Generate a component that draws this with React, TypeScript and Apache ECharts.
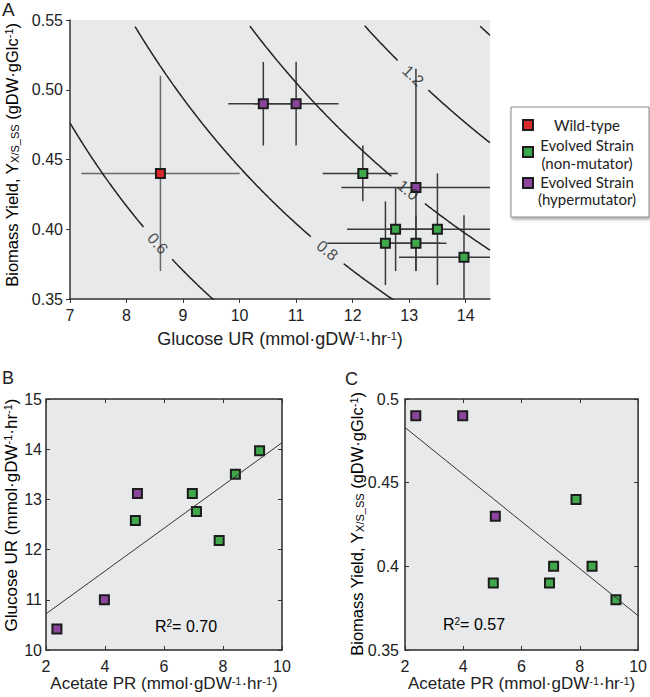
import React, { useEffect, useRef } from "react";
import * as echarts from "echarts";

// ---------------- data ----------------
const legendLines = [["Wild-type"], ["Evolved Strain", "(non-mutator)"], ["Evolved Strain", "(hypermutator)"]];
const groupColors = ["#d9272d", "#3fa84a", "#8c459c"];

// Wild-type (panel A)
const wildGlucoseUR = [8.6];
const wildYield = [0.44];
const wildURLow = [7.2];
const wildURHigh = [10.0];
const wildYieldLow = [0.37];
const wildYieldHigh = [0.51];

// Evolved, non-mutator
const nonMutGlucoseUR = [12.18, 12.76, 13.5, 12.58, 13.12, 13.97];
const nonMutYield = [0.44, 0.4, 0.4, 0.39, 0.39, 0.38];
const nonMutURLow = [11.47, 11.9, 12.6, 11.55, 12.55, 12.82];
const nonMutURHigh = [12.8, 13.6, 14.6, 13.55, 13.66, 15.1];
const nonMutYieldLow = [0.42, 0.37, 0.36, 0.36, 0.37, 0.35];
const nonMutYieldHigh = [0.46, 0.43, 0.44, 0.42, 0.41, 0.41];
const nonMutAcetatePR = [7.87, 7.1, 8.42, 5.03, 6.96, 9.24];

// Evolved, hypermutator
const hyperGlucoseUR = [10.42, 11.0, 13.12];
const hyperYield = [0.49, 0.49, 0.43];
const hyperURLow = [9.8, 10.25, 11.8];
const hyperURHigh = [11.05, 11.75, 14.6];
const hyperYieldLow = [0.46, 0.46, 0.37];
const hyperYieldHigh = [0.52, 0.52, 0.515];
const hyperAcetatePR = [2.37, 3.98, 5.1];

// Growth-rate iso-lines (mu = UR * Y * glucose g/mmol)
const growthLevels = [0.6, 0.8, 1.0, 1.2, 1.4];
const growthLabelAtUR = [8.55, 11.55, 12.98, 13.07, null];
const glucoseGramPerMmol = 0.18;

// Linear fits
const fitAcetate = [2, 10];
const fitBGlucose = [10.72, 14.13];
const fitCYield = [0.483, 0.3705];
const r2B = "0.70";
const r2C = "0.57";

// Ticks
const aXTicks = [7, 8, 9, 10, 11, 12, 13, 14];

// ---------------- layout ----------------
const FONT = "Liberation Sans, Arial, sans-serif";
const LEGEND_FONT = "Lato, Liberation Sans, sans-serif";
const BG = "#e8e9ea";
const INK = "#222";

const A = { left: 70, top: 20, width: 420, height: 279, xmin: 7, xmax: 14.43, ymin: 0.35, ymax: 0.55 };
const B = { left: 46, top: 399, width: 236, height: 251 };
const C = { left: 405, top: 399, width: 236, height: 251 };

function richFor(size: number) {
  return {
    a: { fontSize: size, fontFamily: FONT, color: INK, verticalAlign: "middle", lineHeight: size },
    s: { fontSize: 11, fontFamily: FONT, color: INK, verticalAlign: "bottom", lineHeight: 11, padding: [10, 0, 0, 0] },
    p: { fontSize: 11, fontFamily: FONT, color: INK, verticalAlign: "top", lineHeight: 11 },
  };
}
const glucoseName = "{a|Glucose UR (mmol·gDW}{p|-1}{a|·hr}{p|-1}{a|)}";
const acetateName = "{a|Acetate PR (mmol·gDW}{p|-1}{a|·hr}{p|-1}{a|)}";
const yieldName = "{a|Biomass Yield, Y}{s|X/S_SS}{a| (gDW·gGlc}{p|-1}{a|)}";

function zip(xs: number[], ys: number[]) {
  return xs.map((x, i) => [x, ys[i]]);
}

function contourSeries() {
  const kx = A.width / (A.xmax - A.xmin);
  const ky = A.height / (A.ymax - A.ymin);
  const out: any[] = [];
  const labels: any[] = [];
  growthLevels.forEach((level, li) => {
    const lx = growthLabelAtUR[li];
    const ly = lx != null ? level / (glucoseGramPerMmol * lx) : 0;
    const segs: number[][][] = [[]];
    const N = 600;
    for (let i = 0; i <= N; i++) {
      const x = A.xmin + (i * (A.xmax - A.xmin)) / N;
      const y = level / (glucoseGramPerMmol * x);
      let skip = y > 0.546 || y < 0.34;
      if (!skip && lx != null) {
        const d = Math.hypot((x - lx) * kx, (y - ly) * ky);
        if (d < 21) skip = true;
      }
      if (skip) {
        if (segs[segs.length - 1].length) segs.push([]);
        continue;
      }
      segs[segs.length - 1].push([x, y]);
    }
    segs.filter((s) => s.length > 1).forEach((s) =>
      out.push({
        type: "line",
        xAxisIndex: 0,
        yAxisIndex: 0,
        data: s,
        symbol: "none",
        silent: true,
        lineStyle: { color: INK, width: 1.5 },
      })
    );
    if (lx != null) {
      const slopePx = ((ly / lx) * ky) / kx;
      const deg = (Math.atan(slopePx) * 180) / Math.PI;
      labels.push({ value: [lx, ly], label: { rotate: -deg, formatter: level.toFixed(1) } });
    }
  });
  out.push({
    type: "scatter",
    xAxisIndex: 0,
    yAxisIndex: 0,
    data: labels,
    symbolSize: 1,
    silent: true,
    itemStyle: { color: "rgba(0,0,0,0)" },
    label: { show: true, position: "inside", fontSize: 16, fontFamily: FONT, color: INK },
  });
  return out;
}

function errorSeries(xs: number[], ys: number[], xl: number[], xh: number[], yl: number[], yh: number[], color: string) {
  const clampX = (v: number) => Math.max(A.xmin, Math.min(A.xmax, v));
  const clampY = (v: number) => Math.max(A.ymin, Math.min(A.ymax, v));
  return {
    type: "custom",
    xAxisIndex: 0,
    yAxisIndex: 0,
    silent: true,
    data: xs.map((x, i) => [x, ys[i], xl[i], xh[i], yl[i], yh[i]]),
    encode: { x: 0, y: 1 },
    renderItem: (_p: any, api: any) => {
      const x = api.value(0), y = api.value(1);
      const a = api.coord([clampX(api.value(2)), y]);
      const b = api.coord([clampX(api.value(3)), y]);
      const c = api.coord([x, clampY(api.value(4))]);
      const d = api.coord([x, clampY(api.value(5))]);
      const st = { stroke: color, lineWidth: 1.5 };
      return {
        type: "group",
        children: [
          { type: "line", shape: { x1: a[0], y1: a[1], x2: b[0], y2: b[1] }, style: st },
          { type: "line", shape: { x1: c[0], y1: c[1], x2: d[0], y2: d[1] }, style: st },
        ],
      };
    },
  };
}

function markerSeries(data: number[][], color: string, xi: number, yi: number) {
  return {
    type: "scatter",
    xAxisIndex: xi,
    yAxisIndex: yi,
    data,
    symbol: "rect",
    symbolSize: 9,
    itemStyle: { color, borderColor: "#1c1c1c", borderWidth: 2, opacity: 1 },
  };
}

const axisText = { fontSize: 16, fontFamily: FONT, color: INK };

function boxAxes(g: number, xmin: number, xmax: number, xint: number, ymin: number, ymax: number, yint: number, yLabelMargin: number) {
  const tick = { show: true, inside: true, length: 4, lineStyle: { color: "#333", width: 1 } };
  const xAxes = [
    {
      gridIndex: g, type: "value", min: xmin, max: xmax, interval: xint,
      axisLine: { show: false }, axisTick: tick, splitLine: { show: false },
      axisLabel: { ...axisText, margin: 8 },
      name: acetateName, nameLocation: "middle", nameGap: 25, nameTextStyle: { rich: richFor(17) },
    },
    {
      gridIndex: g, type: "value", position: "top", min: xmin, max: xmax, interval: xint,
      axisLine: { show: false }, axisTick: tick, splitLine: { show: false }, axisLabel: { show: false },
    },
  ];
  const yAxes = [
    {
      gridIndex: g, type: "value", min: ymin, max: ymax, interval: yint,
      axisLine: { show: false }, axisTick: tick, splitLine: { show: false },
      axisLabel: { ...axisText, margin: yLabelMargin },
    },
    {
      gridIndex: g, type: "value", position: "right", min: ymin, max: ymax, interval: yint,
      axisLine: { show: false }, axisTick: tick, splitLine: { show: false }, axisLabel: { show: false },
    },
  ];
  return { xAxes, yAxes };
}

function yTitle(text: string, x: number, y: number, size: number) {
  return {
    type: "text",
    x,
    y,
    rotation: Math.PI / 2,
    style: { text, rich: richFor(size), textAlign: "center", textVerticalAlign: "middle" },
  };
}

function legendGraphic() {
  const children: any[] = [
    {
      type: "rect",
      shape: { x: 511, y: 107, width: 138, height: 110 },
      style: { fill: "#fff", stroke: "#8a8a8a", lineWidth: 1, shadowBlur: 3, shadowOffsetX: 1, shadowOffsetY: 2, shadowColor: "rgba(0,0,0,0.35)" },
    },
  ];
  const markerY = [125, 152, 183];
  const lineYs = [[125], [145, 163], [182, 199]];
  legendLines.forEach((lines, i) => {
    children.push({
      type: "rect",
      shape: { x: 523, y: markerY[i] - 5, width: 10, height: 10 },
      style: { fill: groupColors[i], stroke: "#1c1c1c", lineWidth: 2 },
    });
    lines.forEach((t, j) => {
      children.push({
        type: "text",
        x: 587,
        y: lineYs[i][j],
        style: { text: t, fill: INK, font: `15px ${LEGEND_FONT}`, textAlign: "center", textVerticalAlign: "middle" },
      });
    });
  });
  return { type: "group", children };
}

export default function App() {
  const ref = useRef<HTMLDivElement>(null);
  useEffect(() => {
    if (!ref.current) return;
    const chart = echarts.init(ref.current, null, { renderer: "svg" });

    const b = boxAxes(1, 2, 10, 2, 10, 15, 1, 4);
    const c = boxAxes(2, 2, 10, 2, 0.35, 0.5, 0.05, 6);

    const r2Rich = {
      a: { fontSize: 16, fontFamily: FONT, color: INK, verticalAlign: "middle", lineHeight: 16 },
      p: { fontSize: 10, fontFamily: FONT, color: INK, verticalAlign: "top", lineHeight: 10 },
    };

    const option: any = {
      animation: false,
      backgroundColor: "#fff",
      textStyle: { fontFamily: FONT },
      grid: [
        { left: A.left, top: A.top, width: A.width, height: A.height, show: true, backgroundColor: BG, borderWidth: 0 },
        { left: B.left, top: B.top, width: B.width, height: B.height, show: true, backgroundColor: BG, borderColor: "#2a2a2a", borderWidth: 1.5 },
        { left: C.left, top: C.top, width: C.width, height: C.height, show: true, backgroundColor: BG, borderColor: "#2a2a2a", borderWidth: 1.5 },
      ],
      xAxis: [
        {
          gridIndex: 0, type: "value", min: A.xmin, max: A.xmax,
          axisLine: { show: true, lineStyle: { color: "#333", width: 1.5 } },
          axisTick: { show: true, inside: false, length: 4, customValues: aXTicks, lineStyle: { color: "#333" } },
          axisLabel: { ...axisText, margin: 8, customValues: aXTicks },
          splitLine: { show: false },
          name: glucoseName, nameLocation: "middle", nameGap: 31, nameTextStyle: { rich: richFor(18) },
        },
        ...b.xAxes,
        ...c.xAxes,
      ],
      yAxis: [
        {
          gridIndex: 0, type: "value", min: A.ymin, max: A.ymax, interval: 0.05,
          axisLine: { show: true, lineStyle: { color: "#333", width: 1.5 } },
          axisTick: { show: true, inside: false, length: 4, lineStyle: { color: "#333" } },
          axisLabel: { ...axisText, margin: 7, formatter: (v: number) => v.toFixed(2) },
          splitLine: { show: false },
        },
        ...b.yAxes,
        ...c.yAxes,
      ],
      series: [
        ...contourSeries(),
        errorSeries(wildGlucoseUR, wildYield, wildURLow, wildURHigh, wildYieldLow, wildYieldHigh, "#6a6a6a"),
        errorSeries(nonMutGlucoseUR, nonMutYield, nonMutURLow, nonMutURHigh, nonMutYieldLow, nonMutYieldHigh, "#3a3a3a"),
        errorSeries(hyperGlucoseUR, hyperYield, hyperURLow, hyperURHigh, hyperYieldLow, hyperYieldHigh, "#3a3a3a"),
        markerSeries(zip(wildGlucoseUR, wildYield), groupColors[0], 0, 0),
        markerSeries(zip(nonMutGlucoseUR, nonMutYield), groupColors[1], 0, 0),
        markerSeries(zip(hyperGlucoseUR, hyperYield), groupColors[2], 0, 0),
        // Panel B
        {
          type: "line", xAxisIndex: 1, yAxisIndex: 1, data: zip(fitAcetate, fitBGlucose), symbol: "none", silent: true,
          lineStyle: { color: "#333", width: 1 },
        },
        markerSeries(zip(nonMutAcetatePR, nonMutGlucoseUR), groupColors[1], 1, 1),
        markerSeries(zip(hyperAcetatePR, hyperGlucoseUR), groupColors[2], 1, 1),
        // Panel C
        {
          type: "line", xAxisIndex: 3, yAxisIndex: 3, data: zip(fitAcetate, fitCYield), symbol: "none", silent: true,
          lineStyle: { color: "#333", width: 1 },
        },
        markerSeries(zip(nonMutAcetatePR, nonMutYield), groupColors[1], 3, 3),
        markerSeries(zip(hyperAcetatePR, hyperYield), groupColors[2], 3, 3),
      ],
      graphic: [
        yTitle(yieldName, 12, 155, 16.5),
        yTitle(glucoseName, 11, 515, 17),
        yTitle(yieldName, 357, 524, 16.5),
        { type: "text", x: 2, y: 9, style: { text: "A", font: `19px ${FONT}`, fill: INK, textVerticalAlign: "middle" } },
        { type: "text", x: 2, y: 378, style: { text: "B", font: `18px ${FONT}`, fill: INK, textVerticalAlign: "middle" } },
        { type: "text", x: 345, y: 379, style: { text: "C", font: `18px ${FONT}`, fill: INK, textVerticalAlign: "middle" } },
        { type: "text", x: 155, y: 626, style: { text: `{a|R}{p|2}{a|= ${r2B}}`, textVerticalAlign: "middle", rich: r2Rich } },
        { type: "text", x: 443, y: 624, style: { text: `{a|R}{p|2}{a|= ${r2C}}`, textVerticalAlign: "middle", rich: r2Rich } },
        legendGraphic(),
      ],
    };
    chart.setOption(option);
    return () => chart.dispose();
  }, []);
  return <div ref={ref} style={{ width: 650, height: 697, position: "absolute", left: 0, top: 0 }} />;
}
